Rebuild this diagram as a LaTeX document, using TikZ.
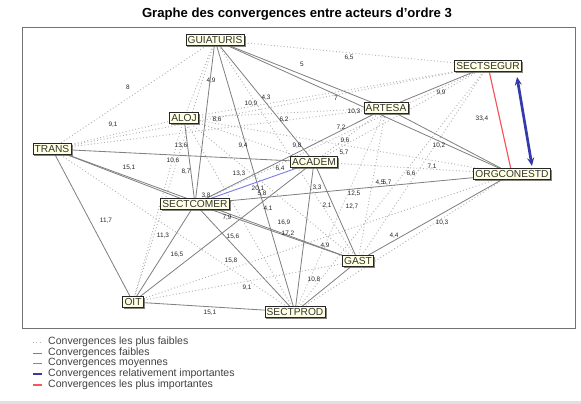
\documentclass[tikz,border=0pt]{standalone}
\usepackage{fontspec}
\setmainfont{Liberation Sans}
\usetikzlibrary{arrows.meta,shadows,backgrounds}
\definecolor{cFond}{RGB}{255,255,228}
\definecolor{cMauve}{RGB}{125,125,235}
\definecolor{cBleu}{RGB}{52,58,172}
\definecolor{cRouge}{RGB}{250,85,95}

\begin{document}
\begin{tikzpicture}[x=0.03cm, y=-0.03cm, >=Latex]
	\tikzset{
		acteur/.style={draw=black!85, fill=cFond, line width=0.6pt, inner sep=1.5pt, text=black!80,
			font=\fontsize{8.7}{9}\selectfont, text height=6.2pt, text depth=0pt,
			drop shadow={shadow xshift=1.3pt, shadow yshift=-1.3pt, fill=black!60, opacity=0.8}},
		lab/.style={font=\fontsize{5.5}{6}\selectfont, text=black!85, inner sep=0pt},
		tresfaible/.style={draw=black!30, line width=0.8pt, dash pattern=on 0.8pt off 2pt},
		faible/.style={draw=black!50, line width=0.7pt},
		moyenne/.style={draw=cMauve, line width=0.8pt},
		relimp/.style={draw=cBleu, line width=1.5pt},
		plusimp/.style={draw=cRouge, line width=1pt},
		legende/.style={anchor=west, font=\fontsize{9}{10}\selectfont, text=black!75, inner sep=0pt},
	}
	\useasboundingbox (0,0) rectangle (581,404);
	\fill[black!12] (0,401) rectangle (581,404);
	
	\node[font=\fontsize{11.2}{13}\selectfont\bfseries] (titre) at (297,14) {Graphe des convergences entre acteurs d'ordre 3};
	\draw[black!55, line width=0.7pt] (22,27) rectangle (575,328);
	
	\node[acteur] (guia) at (215,40) {GUIATURIS};
	\node[acteur] (segur) at (488,66) {SECTSEGUR};
	\node[acteur] (aloj) at (184,118) {ALOJ};
	\node[acteur] (artesa) at (386,108) {ARTESA};
	\node[acteur] (trans) at (52,149) {TRANS};
	\node[acteur] (academ) at (314,162) {ACADEM};
	\node[acteur] (orgc) at (512,174) {ORGCONESTD};
	\node[acteur] (comer) at (195,204) {SECTCOMER};
	\node[acteur] (gast) at (358,261) {GAST};
	\node[acteur] (oit) at (133,302) {OIT};
	\node[acteur] (prod) at (295,312) {SECTPROD};
	
	\begin{scope}[on background layer]
		\foreach \a/\b in {guia/trans, guia/segur, guia/aloj, guia/gast, guia/oit, trans/aloj, trans/artesa,
			trans/segur, aloj/artesa, aloj/segur, aloj/orgc, aloj/academ, aloj/gast, aloj/prod, aloj/oit,
			segur/academ, segur/comer, segur/gast, segur/prod, artesa/academ, artesa/gast, artesa/prod,
			academ/orgc, orgc/prod, orgc/oit, oit/gast, trans/prod}
			\draw[tresfaible] (\a) -- (\b);
		\foreach \a/\b in {guia/artesa, guia/orgc, guia/comer, guia/academ, guia/prod, aloj/comer,
			trans/academ, trans/comer, trans/gast, trans/oit, oit/comer, oit/academ, oit/prod,
			comer/prod, comer/gast, comer/orgc, comer/artesa, academ/prod, academ/gast,
			artesa/segur, artesa/orgc, orgc/gast, gast/prod}
			\draw[faible] (\a) -- (\b);
		\draw[moyenne] (comer) -- (academ);
		\draw[plusimp] (segur) -- (orgc);
	\end{scope}
	
	\coordinate (fa) at (517,77);
	\coordinate (fb) at (532,166);
	\draw[relimp, line width=2.3pt, {Stealth[length=7pt,width=6pt]}-{Stealth[length=7pt,width=6pt]}] (fa) -- (fb);
	
	\foreach \x/\y/\t [count=\i] in {128/87/8, 113/125/{9,1}, 211/81/{4,9}, 217/120/{8,6}, 302/64/5,
		349/58/{6,5}, 251/104/{10,9}, 266/98/{4,3}, 336/98/7, 354/112/{10,3}, 284/120/{6,2},
		341/128/{7,2}, 345/141/{9,6}, 344/153/{5,7}, 441/93/{9,9}, 482/119/{33,4}, 439/146/{10,2},
		432/167/{7,1}, 411/174/{6,6}, 442/223/{10,3}, 394/236/{4,4}, 181/146/{13,6}, 173/161/{10,6},
		186/172/{8,7}, 129/168/{15,1}, 106/221/{11,7}, 163/236/{11,3}, 177/255/{16,5}, 243/146/{9,4},
		297/146/{9,8}, 280/169/{6,4}, 239/174/{13,3}, 206/196/{3,8}, 258/189/{20,1}, 262/194/{5,8},
		317/188/{3,3}, 380/183/{4,5}, 387/183/{5,7}, 354/194/{12,5}, 327/206/{2,1}, 352/207/{12,7},
		268/209/{4,1}, 227/218/{7,9}, 284/223/{16,9}, 288/234/{17,2}, 233/237/{15,6}, 325/246/{4,9},
		231/261/{15,8}, 247/288/{9,1}, 314/280/{10,8}, 210/313/{15,1}}
		\node[lab] (l\i) at (\x,\y) {\t};
	
	\foreach \y/\s/\t [count=\i] in {342/tresfaible/Convergences les plus faibles,
		353/faible/Convergences faibles, 363/moyenne/Convergences moyennes,
		374/relimp/Convergences relativement importantes, 385/plusimp/Convergences les plus importantes}
	{
		\node[legende] (leg\i) at (48,\y) {\t};
		\draw[\s] (33,\y) -- (42,\y);
	}
\end{tikzpicture}
\end{document}
